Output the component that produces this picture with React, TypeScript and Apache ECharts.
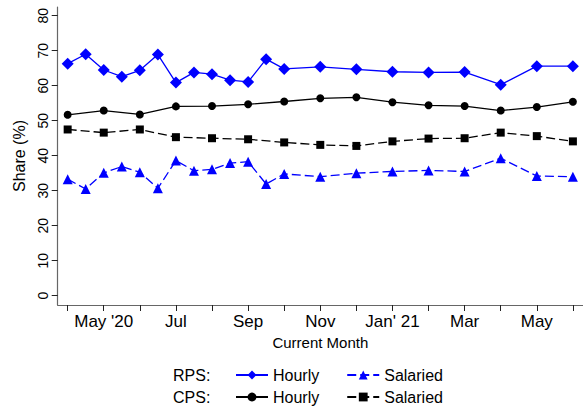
import React, { useEffect, useRef } from "react";
import * as echarts from "echarts";

// Month index: months since Jan 2020 (Apr 2020 = 4, Jun 2021 = 18)
const rpsMonths = [4, 4.5, 5, 5.5, 6, 6.5, 7, 7.5, 8, 8.5, 9, 9.5, 10, 11, 12, 13, 14, 15, 16, 17, 18];
const rpsHourly = [66.3, 69.0, 64.5, 62.6, 64.4, 68.9, 60.9, 63.8, 63.3, 61.6, 61.1, 67.6, 64.8, 65.4, 64.7, 64.0, 63.8, 63.9, 60.3, 65.6, 65.6];
const rpsSalaried = [33.3, 30.5, 35.1, 36.9, 35.3, 30.7, 38.6, 35.7, 36.1, 37.9, 38.3, 31.9, 34.8, 34.0, 35.0, 35.5, 35.8, 35.5, 39.3, 34.2, 34.0];

const cpsMonths = [4, 5, 6, 7, 8, 9, 10, 11, 12, 13, 14, 15, 16, 17, 18];
const cpsHourly = [51.7, 52.9, 51.8, 54.1, 54.2, 54.7, 55.5, 56.4, 56.7, 55.3, 54.4, 54.2, 52.9, 53.9, 55.4];
const cpsSalaried = [47.5, 46.6, 47.5, 45.3, 45.0, 44.7, 43.8, 43.1, 42.8, 44.1, 44.9, 45.0, 46.6, 45.6, 44.1];

const xTickValues = [4, 5, 6, 7, 8, 9, 10, 11, 12, 13, 14, 15, 16, 17, 18];
const xLabelValues = [5, 7, 9, 11, 13, 15, 17];
const xLabelTexts = ["May '20", "Jul", "Sep", "Nov", "Jan' 21", "Mar", "May"];
const yTickValues = [0, 10, 20, 30, 40, 50, 60, 70, 80];

const FONT = "Liberation Sans";
const BLUE = "#0000ff";
const BLACK = "#000000";

export default function App() {
  const ref = useRef<HTMLDivElement>(null);
  useEffect(() => {
    if (!ref.current) return;
    const chart = echarts.init(ref.current, null, { renderer: "svg" });
    const pair = (xs: number[], ys: number[]) => xs.map((x, i) => [x, ys[i]]);
    chart.setOption({
      animation: false,
      backgroundColor: "#ffffff",
      textStyle: { fontFamily: FONT },
      grid: { left: 57.7, top: 7, bottom: 107, right: -1.8, containLabel: false },
      xAxis: {
        type: "value",
        min: 3.724,
        max: 18.28,
        name: "Current Month",
        nameLocation: "middle",
        nameGap: 28,
        nameTextStyle: { fontSize: 15, color: "#000", fontFamily: FONT },
        splitLine: { show: false },
        axisLine: { onZero: false, lineStyle: { color: "#666", width: 1.2 } },
        axisTick: { customValues: xTickValues, length: 6, lineStyle: { color: "#222", width: 1 } },
        axisLabel: {
          customValues: xLabelValues,
          margin: 8,
          fontSize: 17,
          color: "#000",
          fontFamily: FONT,
          formatter: (v: number) => {
            const i = xLabelValues.indexOf(Math.round(v));
            return i >= 0 ? xLabelTexts[i] : "";
          },
        },
      },
      yAxis: {
        type: "value",
        min: -2.66,
        max: 82.5,
        name: "Share (%)",
        nameLocation: "middle",
        nameGap: 29,
        nameTextStyle: { fontSize: 16, color: "#000", fontFamily: FONT },
        splitLine: { show: false },
        axisLine: { onZero: false, show: true, lineStyle: { color: "#666", width: 1.2 } },
        axisTick: { show: true, customValues: yTickValues, length: 6, lineStyle: { color: "#222", width: 1 } },
        axisLabel: {
          customValues: yTickValues,
          rotate: 90,
          margin: 8,
          fontSize: 14,
          color: "#000",
          fontFamily: FONT,
        },
      },
      legend: [
        {
          left: 235,
          top: 367,
          padding: 0,
          itemWidth: 32,
          itemHeight: 11,
          itemGap: 27,
          data: ["RPS Hourly", "RPS Salaried"],
          formatter: (n: string) => n.split(" ")[1],
          textStyle: { fontSize: 16, color: "#000", fontFamily: FONT },
        },
        {
          left: 235,
          top: 389,
          padding: 0,
          itemWidth: 32,
          itemHeight: 11,
          itemGap: 27,
          data: ["CPS Hourly", "CPS Salaried"],
          formatter: (n: string) => n.split(" ")[1],
          textStyle: { fontSize: 16, color: "#000", fontFamily: FONT },
        },
      ],
      graphic: [
        { type: "text", left: 173, top: 367, style: { text: "RPS:", fontSize: 16, fill: "#000", fontFamily: FONT } },
        { type: "text", left: 173, top: 389, style: { text: "CPS:", fontSize: 16, fill: "#000", fontFamily: FONT } },
      ],
      series: [
        {
          name: "RPS Hourly",
          type: "line",
          data: pair(rpsMonths, rpsHourly),
          symbol: "diamond",
          symbolSize: 12,
          itemStyle: { color: BLUE },
          lineStyle: { color: BLUE, width: 1.3 },
        },
        {
          name: "RPS Salaried",
          type: "line",
          data: pair(rpsMonths, rpsSalaried),
          symbol: "triangle",
          symbolSize: 10,
          itemStyle: { color: BLUE },
          lineStyle: { color: BLUE, width: 1.3, type: [9, 4] },
        },
        {
          name: "CPS Hourly",
          type: "line",
          data: pair(cpsMonths, cpsHourly),
          symbol: "circle",
          symbolSize: 8,
          itemStyle: { color: BLACK },
          lineStyle: { color: BLACK, width: 1.3 },
        },
        {
          name: "CPS Salaried",
          type: "line",
          data: pair(cpsMonths, cpsSalaried),
          symbol: "rect",
          symbolSize: 8,
          itemStyle: { color: BLACK },
          lineStyle: { color: BLACK, width: 1.3, type: [9, 4] },
        },
      ],
    });
    return () => chart.dispose();
  }, []);
  return (
    <div
      ref={ref}
      style={{ position: "absolute", left: 0, top: 0, width: 583, height: 412, background: "#fff" }}
    />
  );
}
